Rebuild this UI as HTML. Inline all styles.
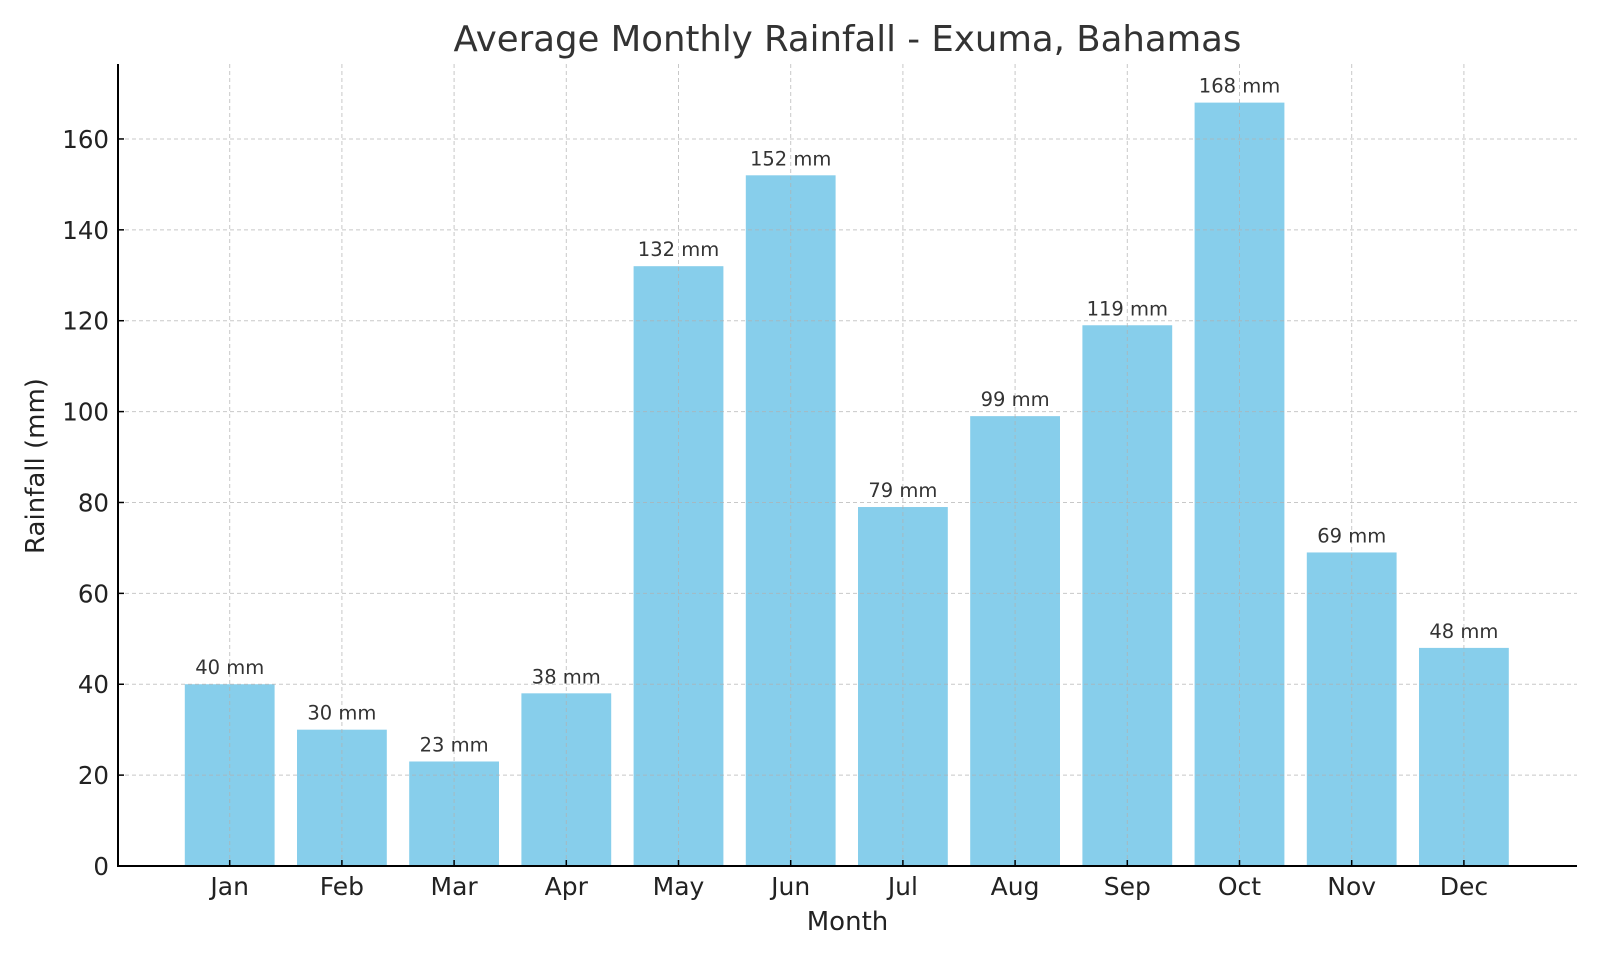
<!DOCTYPE html>
<html><head><style>body{margin:0;background:#fff}svg{display:block}</style></head><body>
<svg width="1600" height="960" xmlns="http://www.w3.org/2000/svg" font-family="DejaVu Sans, Liberation Sans, sans-serif">
<rect width="1600" height="960" fill="#fff"/>
<g fill="#87ceeb">
<rect x="184.8" y="684.24" width="89.8" height="181.76"/>
<rect x="297.0" y="729.68" width="89.8" height="136.32"/>
<rect x="409.2" y="761.49" width="89.8" height="104.51"/>
<rect x="521.4" y="693.33" width="89.8" height="172.67"/>
<rect x="633.6" y="266.19" width="89.8" height="599.81"/>
<rect x="745.8" y="175.31" width="89.8" height="690.69"/>
<rect x="858.0" y="507.02" width="89.8" height="358.98"/>
<rect x="970.2" y="416.14" width="89.8" height="449.86"/>
<rect x="1082.4" y="325.26" width="89.8" height="540.74"/>
<rect x="1194.6" y="102.61" width="89.8" height="763.39"/>
<rect x="1306.8" y="552.46" width="89.8" height="313.54"/>
<rect x="1419.0" y="647.89" width="89.8" height="218.11"/>
</g>
<g stroke="#b0b0b0" stroke-opacity="0.7" stroke-dasharray="4,3" stroke-width="1">
<line x1="229.7" y1="64" x2="229.7" y2="866"/><line x1="341.9" y1="64" x2="341.9" y2="866"/>
<line x1="454.1" y1="64" x2="454.1" y2="866"/><line x1="566.3" y1="64" x2="566.3" y2="866"/>
<line x1="678.5" y1="64" x2="678.5" y2="866"/><line x1="790.7" y1="64" x2="790.7" y2="866"/>
<line x1="902.9" y1="64" x2="902.9" y2="866"/><line x1="1015.1" y1="64" x2="1015.1" y2="866"/>
<line x1="1127.3" y1="64" x2="1127.3" y2="866"/><line x1="1239.5" y1="64" x2="1239.5" y2="866"/>
<line x1="1351.7" y1="64" x2="1351.7" y2="866"/><line x1="1463.9" y1="64" x2="1463.9" y2="866"/>
<line x1="118" y1="775.12" x2="1577" y2="775.12"/><line x1="118" y1="684.24" x2="1577" y2="684.24"/>
<line x1="118" y1="593.36" x2="1577" y2="593.36"/><line x1="118" y1="502.48" x2="1577" y2="502.48"/>
<line x1="118" y1="411.6" x2="1577" y2="411.6"/><line x1="118" y1="320.72" x2="1577" y2="320.72"/>
<line x1="118" y1="229.84" x2="1577" y2="229.84"/><line x1="118" y1="138.96" x2="1577" y2="138.96"/>
</g>
<g stroke="#000" stroke-width="1.5">
<line x1="229.7" y1="866" x2="229.7" y2="860"/><line x1="341.9" y1="866" x2="341.9" y2="860"/>
<line x1="454.1" y1="866" x2="454.1" y2="860"/><line x1="566.3" y1="866" x2="566.3" y2="860"/>
<line x1="678.5" y1="866" x2="678.5" y2="860"/><line x1="790.7" y1="866" x2="790.7" y2="860"/>
<line x1="902.9" y1="866" x2="902.9" y2="860"/><line x1="1015.1" y1="866" x2="1015.1" y2="860"/>
<line x1="1127.3" y1="866" x2="1127.3" y2="860"/><line x1="1239.5" y1="866" x2="1239.5" y2="860"/>
<line x1="1351.7" y1="866" x2="1351.7" y2="860"/><line x1="1463.9" y1="866" x2="1463.9" y2="860"/>
<line x1="118" y1="775.12" x2="124" y2="775.12"/><line x1="118" y1="684.24" x2="124" y2="684.24"/>
<line x1="118" y1="593.36" x2="124" y2="593.36"/><line x1="118" y1="502.48" x2="124" y2="502.48"/>
<line x1="118" y1="411.6" x2="124" y2="411.6"/><line x1="118" y1="320.72" x2="124" y2="320.72"/>
<line x1="118" y1="229.84" x2="124" y2="229.84"/><line x1="118" y1="138.96" x2="124" y2="138.96"/>
</g>
<g stroke="#000" stroke-width="2">
<line x1="118" y1="64" x2="118" y2="866"/><line x1="117" y1="866" x2="1577" y2="866"/>
</g>
<g font-size="25" text-anchor="middle" fill="#222">
<text x="229.7" y="895">Jan</text><text x="341.9" y="895">Feb</text><text x="454.1" y="895">Mar</text>
<text x="566.3" y="895">Apr</text><text x="678.5" y="895">May</text><text x="790.7" y="895">Jun</text>
<text x="902.9" y="895">Jul</text><text x="1015.1" y="895">Aug</text><text x="1127.3" y="895">Sep</text>
<text x="1239.5" y="895">Oct</text><text x="1351.7" y="895">Nov</text><text x="1463.9" y="895">Dec</text>
</g>
<g font-size="26" text-anchor="middle" fill="#222">
<text x="847.5" y="930">Month</text>
<text transform="translate(44,466) rotate(-90)">Rainfall (mm)</text>
</g>
<g font-size="24.5" text-anchor="end" fill="#222">
<text x="109" y="875">0</text><text x="109" y="784.12">20</text><text x="109" y="693.24">40</text>
<text x="109" y="602.36">60</text><text x="109" y="511.48">80</text><text x="109" y="420.6">100</text>
<text x="109" y="329.72">120</text><text x="109" y="238.84">140</text><text x="109" y="147.96">160</text>
</g>
<g font-size="19.5" text-anchor="middle" fill="#333">
<text x="229.7" y="674.24">40 mm</text><text x="341.9" y="719.68">30 mm</text>
<text x="454.1" y="751.49">23 mm</text><text x="566.3" y="683.33">38 mm</text>
<text x="678.5" y="256.19">132 mm</text><text x="790.7" y="165.31">152 mm</text>
<text x="902.9" y="497.02">79 mm</text><text x="1015.1" y="406.14">99 mm</text>
<text x="1127.3" y="315.26">119 mm</text><text x="1239.5" y="92.61">168 mm</text>
<text x="1351.7" y="542.46">69 mm</text><text x="1463.9" y="637.89">48 mm</text>
</g>
<text x="847.5" y="51" font-size="35.5" text-anchor="middle" fill="#333">Average Monthly Rainfall - Exuma, Bahamas</text>
</svg>
</body></html>
